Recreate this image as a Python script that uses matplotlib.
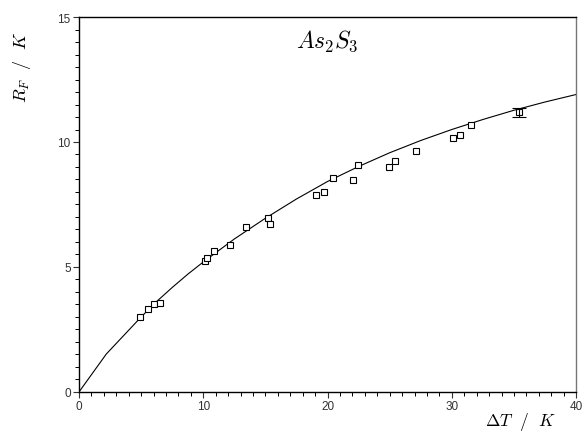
import matplotlib
matplotlib.use("Agg")
import matplotlib.pyplot as plt
from matplotlib.ticker import MultipleLocator

plt.rcParams['mathtext.fontset'] = 'cm'

# measured points (Delta T in K, R_F in K)
dT = [4.9, 5.55, 6.05, 6.5, 10.15, 10.3, 10.85, 12.15, 13.45, 15.2, 15.4,
      19.05, 19.7, 20.45, 22.05, 22.45, 24.95, 25.45, 27.1, 30.1, 30.65,
      31.55, 35.4]
RF = [3.0, 3.3, 3.52, 3.56, 5.24, 5.36, 5.64, 5.88, 6.6, 6.96, 6.72,
      7.88, 8.0, 8.56, 8.48, 9.08, 9.0, 9.24, 9.64, 10.16, 10.28,
      10.68, 11.2]
# error bar on last point
err_x = [35.4]
err_y = [11.2]
err = [0.18]

# fitted curve
fit_x = [0, 2.2, 5, 6.25, 7.5, 8.75, 10, 12.5, 15, 17.5, 20, 22.5, 25,
         27.5, 30, 32.5, 35, 37.5, 40]
fit_y = [0, 1.52, 3.0, 3.62, 4.18, 4.71, 5.2, 6.12, 6.95, 7.72, 8.42,
         9.02, 9.57, 10.06, 10.5, 10.9, 11.27, 11.6, 11.9]

fig = plt.figure(figsize=(5.86, 4.35), dpi=100)
ax = fig.add_axes([0.1348, 0.0966, 0.8483, 0.862])

ax.plot(fit_x, fit_y, color='black', lw=0.8)
ax.plot(dT, RF, ls='none', marker='s', ms=5, mfc='white', mec='black', mew=0.8)
ax.errorbar(err_x, err_y, yerr=err, fmt='none', ecolor='black', elinewidth=0.8,
            capsize=5, capthick=0.8)

ax.set_xlim(0, 40)
ax.set_ylim(0, 15)
ax.xaxis.set_major_locator(MultipleLocator(10))
ax.xaxis.set_minor_locator(MultipleLocator(1))
ax.yaxis.set_major_locator(MultipleLocator(5))
ax.yaxis.set_minor_locator(MultipleLocator(0.5))
ax.tick_params(which='major', direction='out', length=4, width=0.8,
               labelsize=8.5, colors='#333333', pad=2)
ax.tick_params(which='minor', direction='out', length=3, width=0.7)
for lab in ax.get_xticklabels() + ax.get_yticklabels():
    lab.set_family('Liberation Sans')

for s in ['left', 'bottom', 'top']:
    ax.spines[s].set_linewidth(1.0)
ax.spines['right'].set_linewidth(1.0)
ax.spines['right'].set_color('#777777')

ax.text(20, 14.05, r'$As_2S_3$', fontsize=17, ha='center', va='center')
fig.text(521 / 586, 1 - 422 / 435, r'$\Delta T\ \ /\ \ K$', fontsize=12.5,
         ha='center', va='center')
fig.text(22 / 586, 1 - 67 / 435, r'$R_F\ \ /\ \ K$', fontsize=13,
         ha='center', va='center', rotation=90)

fig.savefig('out.png', dpi=100)
